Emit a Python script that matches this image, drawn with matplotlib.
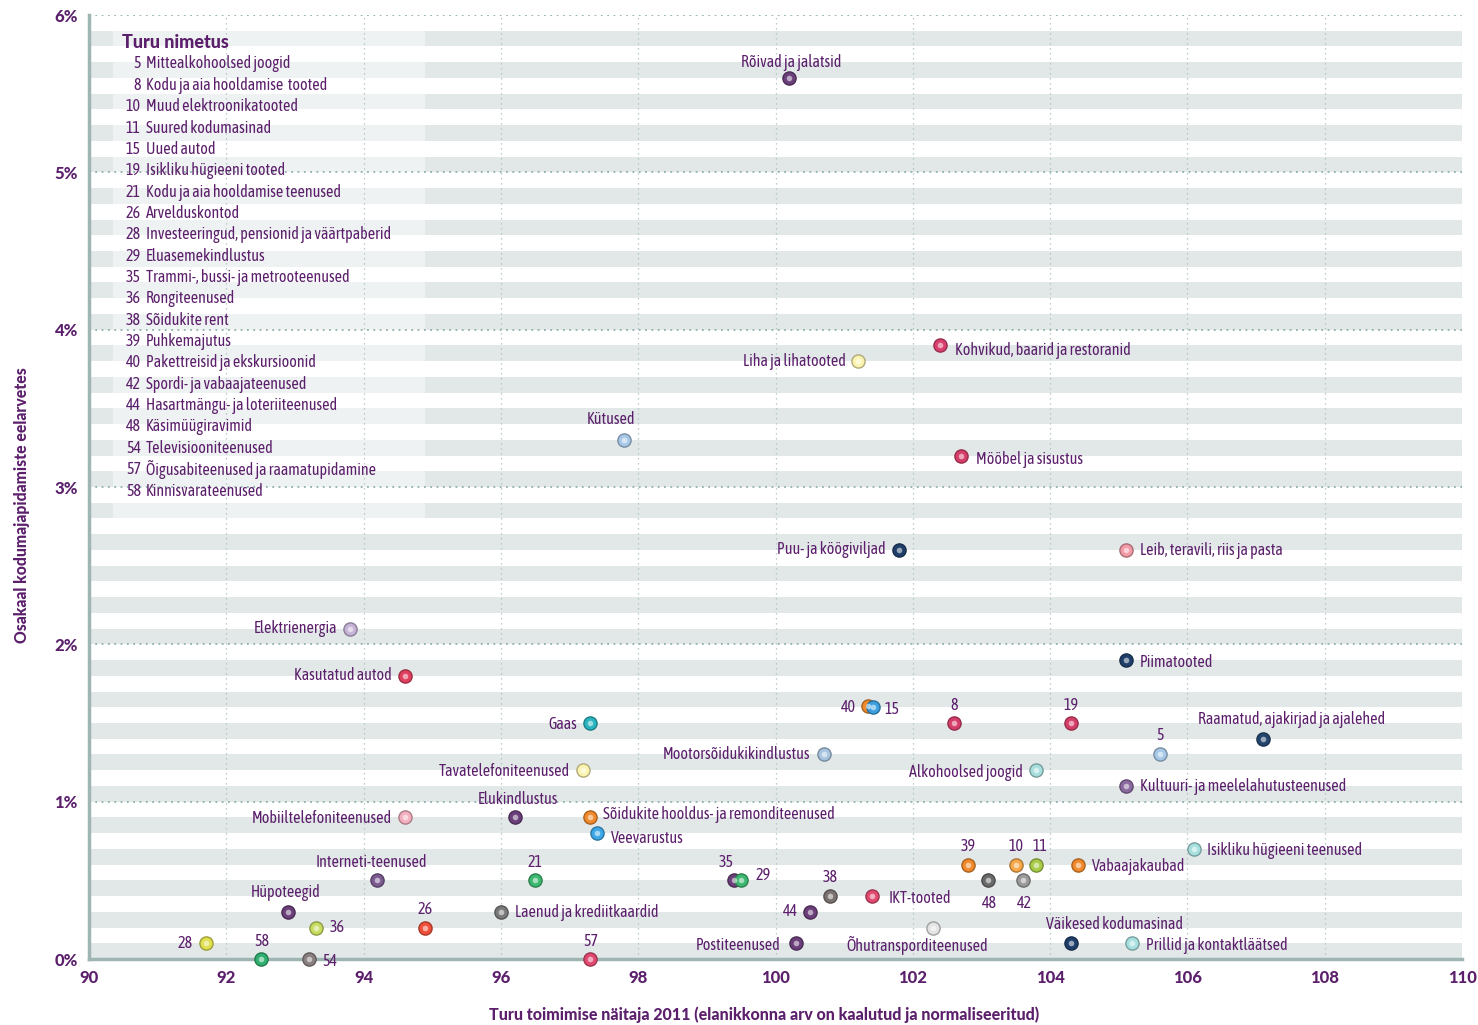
import matplotlib
matplotlib.use("Agg")
import matplotlib.pyplot as plt
from matplotlib.colors import to_rgb

# Market names, performance index (x) and share of household budget in % (y)
names = [
    "Rõivad ja jalatsid", "Kohvikud, baarid ja restoranid", "Liha ja lihatooted", "Kütused",
    "Mööbel ja sisustus", "Puu- ja köögiviljad", "Leib, teravili, riis ja pasta", "Elektrienergia",
    "Piimatooted", "Kasutatud autod", "40", "15", "8", "19", "Gaas",
    "Raamatud, ajakirjad ja ajalehed", "5", "Mootorsõidukikindlustus", "Tavatelefoniteenused",
    "Alkohoolsed joogid", "Kultuuri- ja meelelahutusteenused", "Elukindlustus",
    "Mobiiltelefoniteenused", "Sõidukite hooldus- ja remonditeenused", "Veevarustus",
    "Isikliku hügieeni teenused", "Interneti-teenused", "21", "35", "29", "39", "10", "11",
    "Vabaajakaubad", "48", "42", "38", "IKT-tooted", "Hüpoteegid", "26",
    "Laenud ja krediitkaardid", "44", "36", "Õhutransporditeenused", "28", "58", "54", "57",
    "Postiteenused", "Väikesed kodumasinad", "Prillid ja kontaktläätsed",
]
index_2011 = [
    100.2, 102.4, 101.2, 97.8, 102.7, 101.8, 105.1, 93.8,
    105.1, 94.6, 101.35, 101.42, 102.6, 104.3, 97.3,
    107.1, 105.6, 100.7, 97.2,
    103.8, 105.1, 96.2,
    94.6, 97.3, 97.4,
    106.1, 94.2, 96.5, 99.4, 99.5, 102.8, 103.5, 103.8,
    104.4, 103.1, 103.6, 100.8, 101.4, 92.9, 94.9,
    96.0, 100.5, 93.3, 102.3, 91.7, 92.5, 93.2, 97.3,
    100.3, 104.3, 105.2,
]
share = [
    5.6, 3.9, 3.8, 3.3, 3.2, 2.6, 2.6, 2.1,
    1.9, 1.8, 1.61, 1.6, 1.5, 1.5, 1.5,
    1.4, 1.3, 1.3, 1.2,
    1.2, 1.1, 0.9,
    0.9, 0.9, 0.8,
    0.7, 0.5, 0.5, 0.5, 0.5, 0.6, 0.6, 0.6,
    0.6, 0.5, 0.5, 0.4, 0.4, 0.3, 0.2,
    0.3, 0.3, 0.2, 0.2, 0.1, 0.0, 0.0, 0.0,
    0.1, 0.1, 0.1,
]
colors = [
    "#6b3f7a", "#d9406e", "#fbf3b0", "#a8c8e8", "#d63e6a", "#1f3f6a", "#f29aa6", "#c7b3d6",
    "#1f3f6a", "#e0405e", "#f08a2c", "#3ca0e0", "#d63e6a", "#d63e6a", "#2ab4c0",
    "#24466e", "#a8c8e8", "#a8c4e0", "#fbf3b0",
    "#a8dede", "#8a6a9e", "#6b3f7a",
    "#f4b0c0", "#f08a2c", "#3ca8e8",
    "#a8e0e0", "#7a5a90", "#3cb870", "#6b3f7a", "#3cb870", "#f08a2c", "#f7a84a", "#a8cc48",
    "#f08a2c", "#6a6a6a", "#9a9a9a", "#7a7270", "#e04a70", "#6b3f7a", "#f0503a",
    "#7a7a7a", "#6b3f7a", "#c8dc60", "#e4e4e4", "#e0e050", "#30b070", "#8a8080", "#e04a70",
    "#6b3f7a", "#1f3f6a", "#a8e0e0",
]

# where each label sits relative to its point: (dx px, dy px, horizontal alignment)
label_pos = [
    (2, 15, "center"), (15, -5, "left"), (-12, 0, "right"), (-13, 20, "center"),
    (15, -4, "left"), (-13, 0, "right"), (14, -1, "left"), (-13, 0, "right"),
    (14, -2, "left"), (-13, 0, "right"), (-12, -2, "right"), (12, -2, "left"), (0, 18, "center"),
    (0, 18, "center"), (-13, -1, "right"),
    (29, 19, "center"), (0, 19, "center"), (-13, 0, "right"), (-13, -1, "right"),
    (-13, -2, "right"), (14, -1, "left"), (3, 18, "center"),
    (-13, -1, "right"), (13, 3, "left"), (14, -5, "left"),
    (13, -2, "left"), (-6, 18, "center"), (0, 18, "center"), (-8, 18, "center"), (14, 5, "left"),
    (1, 18, "center"), (0, 18, "center"), (4, 18, "center"),
    (14, -2, "left"), (1, -23, "center"), (2, -23, "center"), (0, 19, "center"), (17, -2, "left"),
    (-2, 19, "center"), (0, 18, "center"),
    (14, -1, "left"), (-12, 0, "right"), (14, 0, "left"), (-16, -18, "center"), (-13, 0, "right"),
    (1, 18, "center"), (14, -2, "left"), (1, 18, "center"),
    (-16, -2, "right"), (44, 19, "center"), (14, -2, "left"),
]

legend_nums = ["5", "8", "10", "11", "15", "19", "21", "26", "28", "29", "35", "36", "38",
               "39", "40", "42", "44", "48", "54", "57", "58"]
legend_names = [
    "Mittealkohoolsed joogid", "Kodu ja aia hooldamise  tooted", "Muud elektroonikatooted",
    "Suured kodumasinad", "Uued autod", "Isikliku hügieeni tooted",
    "Kodu ja aia hooldamise teenused", "Arvelduskontod",
    "Investeeringud, pensionid ja väärtpaberid", "Eluasemekindlustus",
    "Trammi-, bussi- ja metrooteenused", "Rongiteenused", "Sõidukite rent", "Puhkemajutus",
    "Pakettreisid ja ekskursioonid", "Spordi- ja vabaajateenused",
    "Hasartmängu- ja loteriiteenused", "Käsimüügiravimid", "Televisiooniteenused",
    "Õigusabiteenused ja raamatupidamine", "Kinnisvarateenused",
]

purple = "#5b1f6b"
narrow = ["Asap Condensed", "Archivo Narrow", "Liberation Sans", "DejaVu Sans"]
bold = ["Lato", "Open Sans", "DejaVu Sans"]

fig = plt.figure(figsize=(14.78, 10.25), dpi=100)
ax = fig.add_axes([89 / 1478, 1 - 959 / 1025, (1462 - 89) / 1478, (959 - 15) / 1025])
ax.set_xlim(90, 110)
ax.set_ylim(0, 6)

# striped background
for k in range(0, 60, 2):
    ax.axhspan(k / 10, k / 10 + 0.1, color="#e2e8e8", lw=0, zorder=0)
# legend box lightens the stripes
ax.add_patch(plt.Rectangle((90.35, 2.8), 4.54, 3.1, facecolor="white", alpha=0.45,
                           lw=0, zorder=0.5))

for v in range(1, 7):
    ax.axhline(v, color="#8fb0aa", lw=1.3, ls=(0, (1, 2.5)), zorder=1)
for v in range(92, 111, 2):
    ax.axvline(v, color="#a8bfbb", lw=0.9, ls=(0, (1, 3)), zorder=1)

for s in ["top", "right"]:
    ax.spines[s].set_visible(False)
for s in ["left", "bottom"]:
    ax.spines[s].set_color("#9fb5b3")
    ax.spines[s].set_linewidth(2.5)

ax.set_xticks(range(90, 111, 2))
ax.set_yticks(range(0, 7))
ax.set_yticklabels([f"{v}%" for v in range(0, 7)])
ax.tick_params(length=0, colors=purple, labelsize=12, pad=8)
for t in ax.get_xticklabels() + ax.get_yticklabels():
    t.set_family(bold)
    t.set_fontweight("black")

fig.text(764 / 1478, 1 - 1015 / 1025,
         "Turu toimimise näitaja 2011 (elanikkonna arv on kaalutud ja normaliseeritud)",
         family=bold, fontweight="black", color=purple, fontsize=11.5, ha="center", va="center")
fig.text(22 / 1478, 1 - 505 / 1025, "Osakaal kodumajapidamiste eelarvetes", family=bold,
         fontweight="black", color=purple, fontsize=11.3, rotation=90, ha="center", va="center")

# points with a small highlight to give the spheres a bit of depth
for x, y, c in zip(index_2011, share, colors):
    r, g, b = to_rgb(c)
    edge = (r * 0.7, g * 0.7, b * 0.7)
    ax.scatter(x, y, s=90, color=c, edgecolor=edge, linewidth=1.0, zorder=3, clip_on=False)
    ax.scatter(x, y, s=16, color="white", alpha=0.55, lw=0, zorder=4, clip_on=False)

for name, x, y, (dx, dy, ha) in zip(names, index_2011, share, label_pos):
    ax.annotate(name, (x, y), xytext=(dx, dy), textcoords="offset pixels", ha=ha,
                va="center", color=purple, fontsize=11.5, family=narrow, zorder=5)

# legend with market numbers
fig.text(122 / 1478, 1 - 43 / 1025, "Turu nimetus", color=purple, fontsize=13,
         fontweight="black", family=bold, va="center")
for i, (n, nm) in enumerate(zip(legend_nums, legend_names)):
    yy = 1 - (64 + i * 21.35) / 1025
    fig.text(141 / 1478, yy, n, ha="right", va="center", color=purple, fontsize=11.5,
             family=narrow)
    fig.text(146 / 1478, yy, nm, ha="left", va="center", color=purple, fontsize=11.5,
             family=narrow)

fig.savefig("out.png", dpi=100)
